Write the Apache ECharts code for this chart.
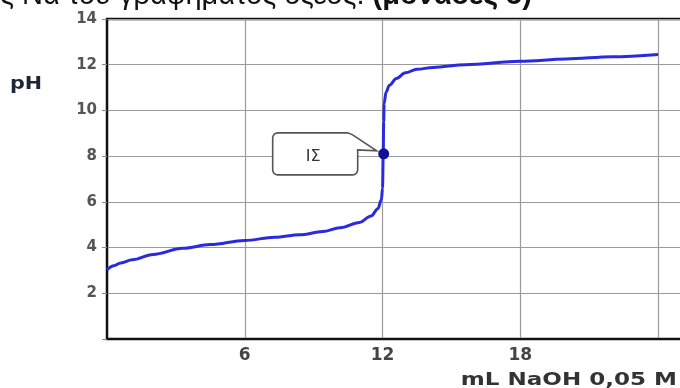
<!DOCTYPE html>
<html>
<head>
<meta charset="utf-8">
<script src="https://cdn.jsdelivr.net/npm/echarts@6/dist/echarts.min.js"></script>
<style>html,body{margin:0;padding:0;background:#fff}#c{width:680px;height:388px}</style>
</head>
<body>
<div id="c"></div>
<script>
// Titration curve data (mL NaOH, pH)
const volumes = [0, 0.3, 0.6, 1.1, 2, 3.3, 4.5, 6, 7.3, 8.4, 9.4, 10.15, 11, 11.5, 11.8, 11.95, 12.0, 12.03, 12.05, 12.07, 12.15, 12.3, 12.6, 13.0, 13.5, 14.2, 15.6, 18, 20, 22, 24];
const phValues = [3.03, 3.2, 3.33, 3.47, 3.7, 3.97, 4.13, 4.31, 4.45, 4.56, 4.7, 4.87, 5.1, 5.38, 5.7, 6.1, 6.6, 8.1, 9.5, 10.3, 10.8, 11.1, 11.4, 11.65, 11.8, 11.88, 12.0, 12.15, 12.25, 12.35, 12.45];
const eqPoint = [12.05, 8.1];
const eqLabel = 'ΙΣ';
const xTickLabels = ['6', '12', '18'];
const yTickLabels = ['2', '4', '6', '8', '10', '12', '14'];
const yName = 'pH';
const xName = 'mL NaOH 0,05 M';
const topText = 'ς Να του γραφήματος όξεος. ';
const topTextBold = '(μονάδες 5)';

const chart = echarts.init(document.getElementById('c'));
const curve = volumes.map((v, i) => [v, phValues[i]]);

chart.setOption({
  animation: false,
  grid: { left: 107, top: 19, right: -24, height: 320, outerBoundsMode: 'none', containLabel: false, show: true, borderColor: '#111', borderWidth: 2.5, backgroundColor: '#fff' },
  xAxis: {
    type: 'value', min: 0, max: 26, interval: 6,
    axisLine: { show: true, lineStyle: { color: '#111', width: 2 } },
    axisTick: { show: false },
    splitLine: { show: true, lineStyle: { color: '#9a9a9a', width: 1.2 } },
    axisLabel: {
      margin: 8, color: '#444', fontSize: 17, fontWeight: 'bold', fontFamily: 'DejaVu Sans',
      formatter: v => xTickLabels.includes(String(v)) ? String(v) : ''
    }
  },
  yAxis: {
    type: 'value', min: 0, max: 14, interval: 2,
    axisLine: { show: true, lineStyle: { color: '#111', width: 2 } },
    axisTick: { show: true, length: 5, inside: false, lineStyle: { color: '#888' } },
    splitLine: { show: true, lineStyle: { color: '#9a9a9a', width: 1.2 } },
    axisLabel: {
      margin: 10, color: '#555', fontSize: 15, fontWeight: 'bold', fontFamily: 'DejaVu Sans',
      formatter: v => yTickLabels.includes(String(v)) ? String(v) : ''
    }
  },
  series: [
    {
      type: 'line', data: curve, showSymbol: false, smooth: 0.35, smoothMonotone: 'x',
      lineStyle: { color: '#2a2ae0', width: 3 }, z: 3
    },
    {
      type: 'scatter', data: [eqPoint], symbolSize: 11,
      itemStyle: { color: '#10109a', opacity: 1 }, z: 5
    }
  ]
});

// Callout box anchored to the equivalence point
const p = chart.convertToPixel({ gridIndex: 0 }, eqPoint);
const px = p[0], py = p[1];
const r = 5;
const L = px - 111, R = px - 26, T = py - 21, B = py + 21;
function arc(cx, cy, a0, a1) {
  const pts = [];
  for (let i = 0; i <= 4; i++) {
    const a = a0 + (a1 - a0) * i / 4;
    pts.push([cx + r * Math.cos(a), cy + r * Math.sin(a)]);
  }
  return pts;
}
const pts = [].concat(
  arc(L + r, T + r, Math.PI, 1.5 * Math.PI),
  [[px - 36, T]],
  [[px - 31, T + 2]],
  [[px - 7, py - 3]],
  [[R, py - 4]],
  arc(R - r, B - r, 0, 0.5 * Math.PI),
  arc(L + r, B - r, 0.5 * Math.PI, Math.PI)
);

chart.setOption({
  graphic: [
    {
      id: 'yname', type: 'text', x: 10, y: 84, scaleX: 1.15,
      style: { text: yName, fontSize: 18, fontWeight: 'bold', fill: '#1c2636', fontFamily: 'DejaVu Sans', verticalAlign: 'middle' }
    },
    {
      id: 'xname', type: 'text', x: 677, y: 380, scaleX: 1.28,
      style: { text: xName, fontSize: 18, fontWeight: 'bold', fill: '#333', fontFamily: 'DejaVu Sans', align: 'right', verticalAlign: 'middle' }
    },
    {
      id: 'top', type: 'text', x: 0, y: -4,
      style: {
        text: '{n|' + topText + '}{b|' + topTextBold + '}', verticalAlign: 'middle',
        rich: {
          n: { fontSize: 29, fill: '#111', fontFamily: 'Liberation Sans' },
          b: { fontSize: 29, fontWeight: 'bold', fill: '#111', fontFamily: 'Liberation Sans' }
        }
      }
    },
    {
      id: 'box', type: 'polygon', z: 10,
      shape: { points: pts },
      style: { fill: '#fff', stroke: '#555', lineWidth: 1.6 }
    },
    {
      id: 'boxtext', type: 'text', z: 11, x: (L + R) / 2 - 2, y: py + 3,
      style: { text: eqLabel, fontSize: 16, fill: '#333', align: 'center', verticalAlign: 'middle', fontFamily: 'DejaVu Sans' }
    }
  ]
});
</script>
</body>
</html>
